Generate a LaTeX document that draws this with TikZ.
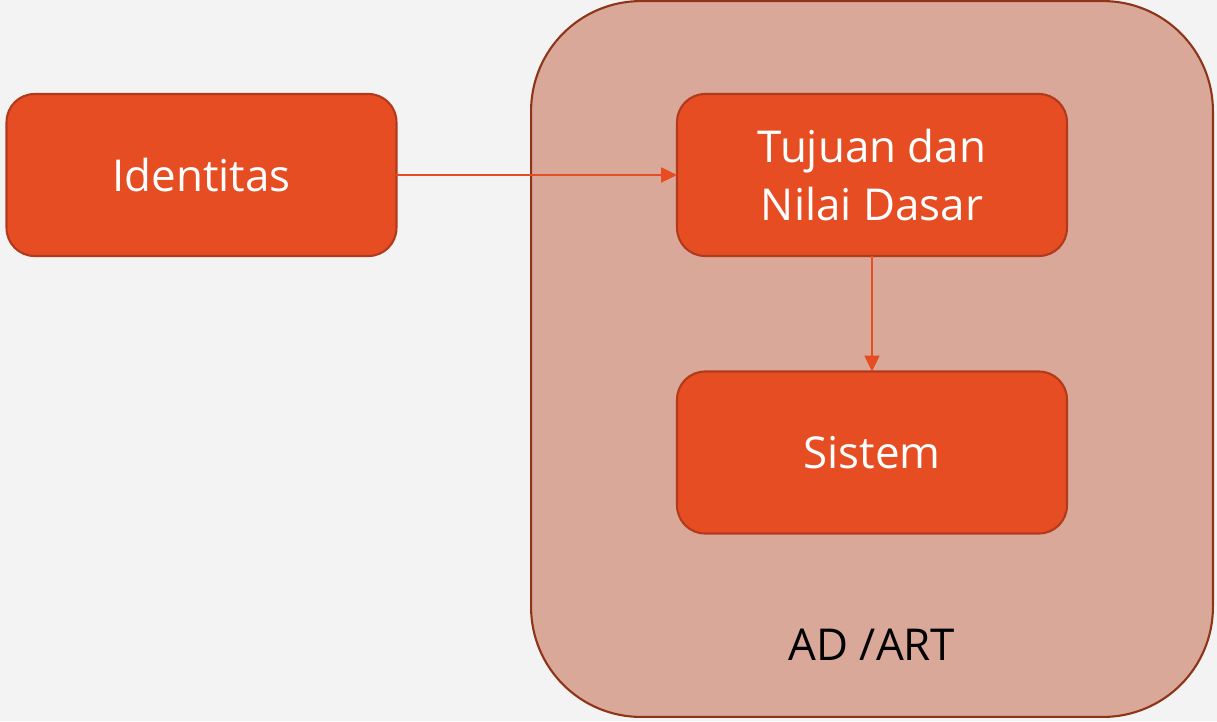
\documentclass[tikz,border=0pt]{standalone}
\usepackage{fontspec}
\setmainfont{Open Sans}
\usepackage{xcolor}
\usetikzlibrary{positioning}
\usetikzlibrary{arrows.meta}

\definecolor{boxfill}{HTML}{E64D22}
\definecolor{boxline}{HTML}{B23A1C}
\definecolor{groupfill}{HTML}{D9A899}
\definecolor{groupline}{HTML}{8E3519}
\definecolor{bgcolor}{HTML}{F3F3F3}

\begin{document}
\begin{tikzpicture}[x=0.02cm, y=-0.02cm,
                    block/.style = { rectangle, rounded corners = 0.56cm, fill = boxfill, draw = boxline, line width = 1.2pt, text = white, minimum width = 7.8cm, minimum height = 3.24cm, align = center, font = \fontsize{25}{32.5}\selectfont, inner sep=0pt, outer sep=0pt },
                    group/.style = { rectangle, rounded corners = 2.2cm, fill = groupfill, draw = groupline, line width = 1.2pt, minimum width = 13.64cm, minimum height = 14.32cm, inner sep=0pt, outer sep=0pt },
                    link/.style = { draw = boxfill, line width = 1.2pt, -{Triangle[length=0.32cm, width=0.3cm]} },
                    caption/.style = { font = \fontsize{25}{32}\selectfont, text = black },
                ]
                    \fill[bgcolor] (0,0) rectangle (1217,721);
                    \useasboundingbox (0,0) rectangle (1217,721);
                    \node[group] (Org) at (872,359) {};
                    \node[block] (Identitas) at (201.5,175) {Identitas};
                    \node[block] (Tujuan) at (872,175) {Tujuan dan\\Nilai Dasar};
                    \node[block] (Sistem) at (872,452.5) {Sistem};
                    \node[caption] (Label) at (872,645) {AD /ART};
                    \draw[link] (Identitas) -- (Tujuan);
                    \draw[link] (Tujuan) -- (Sistem);
                \end{tikzpicture}
\end{document}
